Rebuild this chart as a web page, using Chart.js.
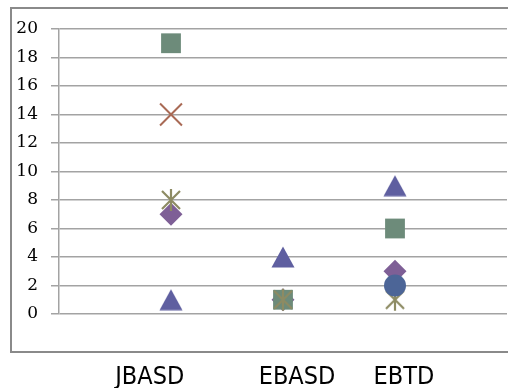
<!DOCTYPE html>
<html>
<head>
<meta charset="utf-8">
<script src="https://cdn.jsdelivr.net/npm/chart.js@4"></script>
<style>
  html, body { margin: 0; padding: 0; background: #ffffff; overflow: hidden; }
  #c { display: block; }
</style>
</head>
<body>
<canvas id="c" width="508" height="388" style="width:508px;height:388px"></canvas>
<script>
// Categories along the horizontal axis
const categories = ['JBASD', 'EBASD', 'EBTD'];
// Vertical axis range and tick step
const yMin = 0;
const yMax = 20;
const yStep = 2;

// One value per category for each marker series (null = no marker)
const squareValues   = [19, 1, 6];
const crossValues    = [14, null, null];
const starValues     = [8, 1, 1];
const diamondValues  = [7, 1, 3];
const triangleValues = [1, 4, 9];
const circleValues   = [null, null, 2];

// Category captions sit slightly off their slot centres (in axis units)
const captionNudge = [-0.19, 0.125, 0.08];

// Small canvases for marker shapes not built into Chart.js
function makeTriangle(color) {
  const c = document.createElement('canvas');
  c.width = 24; c.height = 22;
  const g = c.getContext('2d');
  g.fillStyle = color;
  g.beginPath();
  g.moveTo(12, 0.5);
  g.lineTo(23.5, 21.5);
  g.lineTo(0.5, 21.5);
  g.closePath();
  g.fill();
  return c;
}
function makeStar(color) {
  const c = document.createElement('canvas');
  c.width = 24; c.height = 24;
  const g = c.getContext('2d');
  g.strokeStyle = color;
  g.lineWidth = 2.2;
  g.lineCap = 'butt';
  g.beginPath();
  g.moveTo(3, 3);  g.lineTo(21, 21);
  g.moveTo(21, 3); g.lineTo(3, 21);
  g.moveTo(12, 1); g.lineTo(12, 23);
  g.stroke();
  return c;
}

const toPoints = vals => vals.map((v, i) => ({ x: i + 1, y: v }));

// Listed top-most first: Chart.js paints the last dataset underneath
const datasets = [
  { label: 'circle', data: toPoints(circleValues), pointStyle: 'circle', pointRadius: 11,
    backgroundColor: '#4c6597', borderColor: '#4c6597', borderWidth: 0 },
  { label: 'star', data: toPoints(starValues), pointStyle: makeStar('#8d8b63'), pointRadius: 11 },
  { label: 'cross', data: toPoints(crossValues), pointStyle: 'crossRot', pointRadius: 15.5,
    borderColor: '#a96a55', backgroundColor: '#a96a55', borderWidth: 2 },
  { label: 'triangle', data: toPoints(triangleValues), pointStyle: makeTriangle('#5f5fa0'), pointRadius: 11 },
  { label: 'square', data: toPoints(squareValues), pointStyle: 'rect', pointRadius: 14,
    backgroundColor: '#6d8b7a', borderColor: '#6d8b7a', borderWidth: 0 },
  { label: 'diamond', data: toPoints(diamondValues), pointStyle: 'rectRot', pointRadius: 11.5,
    backgroundColor: '#7e5f96', borderColor: '#7e5f96', borderWidth: 0 }
].map(d => Object.assign({ showLine: false, pointHoverRadius: d.pointRadius }, d));

// Frame around the plot (open on the right side)
const framePlugin = {
  id: 'frame',
  beforeDraw(chart) {
    const ctx = chart.ctx;
    const w = chart.width;
    ctx.save();
    ctx.strokeStyle = '#8a8a8a';
    ctx.lineWidth = 2;
    ctx.beginPath();
    ctx.moveTo(10, 8);  ctx.lineTo(w, 8);
    ctx.moveTo(10, 352); ctx.lineTo(w, 352);
    ctx.moveTo(11, 7);  ctx.lineTo(11, 353);
    ctx.stroke();
    ctx.restore();
  }
};

new Chart(document.getElementById('c'), {
  type: 'scatter',
  data: { datasets },
  plugins: [framePlugin],
  options: {
    responsive: false,
    animation: false,
    layout: { autoPadding: false, padding: { top: 29, right: 1, left: 0, bottom: 0 } },
    plugins: { legend: { display: false }, tooltip: { enabled: false } },
    scales: {
      x: {
        type: 'linear',
        min: 0,
        max: categories.length + 1,
        afterBuildTicks(scale) {
          scale.ticks = categories.map((c, i) => ({ value: i + 1 + captionNudge[i] }));
        },
        afterFit(scale) { scale.height = 74; scale.paddingRight = 0; scale.paddingLeft = 0; },
        grid: { display: false, drawTicks: false },
        border: { display: false },
        ticks: {
          autoSkip: false,
          maxRotation: 0,
          padding: 48,
          color: '#000000',
          font: { family: "'DejaVu Sans Condensed', 'Liberation Sans Narrow', 'Liberation Sans', sans-serif", size: 25 },
          callback: (v, i) => categories[i] ?? ''
        }
      },
      y: {
        min: yMin,
        max: yMax,
        afterFit(scale) { scale.width = 59; },
        grid: { color: '#a3a3a3', lineWidth: 1.5, tickLength: 8, drawTicks: true, tickColor: '#a3a3a3' },
        border: { display: true, color: '#a3a3a3', width: 1.5 },
        ticks: {
          stepSize: yStep,
          padding: 13,
          color: '#000000',
          font: { family: "'DejaVu Serif', serif", size: 17 }
        }
      }
    }
  }
});
</script>
</body>
</html>
